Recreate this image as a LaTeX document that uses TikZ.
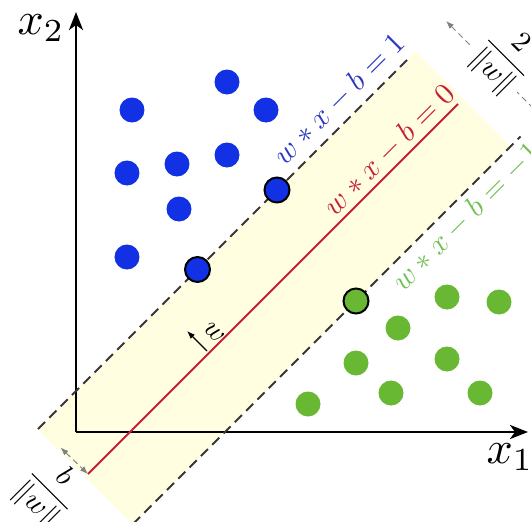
\documentclass[tikz,border=0pt]{standalone}
\usepackage{amsmath}
\usepackage{tikz}
\usetikzlibrary{arrows.meta, positioning, calc}
\definecolor{ptblue}{RGB}{18, 48, 228}
\definecolor{ptgreen}{RGB}{104, 184, 52}
\definecolor{lblblue}{RGB}{45, 55, 195}
\definecolor{lblgreen}{RGB}{115, 192, 85}
\definecolor{hypred}{RGB}{200, 30, 55}
\definecolor{bandyellow}{RGB}{255, 254, 224}
\definecolor{dashgray}{RGB}{55, 55, 55}

\begin{document}
\begin{tikzpicture}[
			x=0.5pt, y=0.5pt,
			dot/.style={circle, inner sep=0pt, minimum size=12.5pt},
			bluedot/.style={dot, fill=ptblue},
			greendot/.style={dot, fill=ptgreen},
			support/.style={draw=black, line width=1pt},
			axis/.style={line width=1.4pt, -{Stealth[length=9pt, width=7pt, inset=2.5pt]}},
			margin/.style={dash pattern=on 5pt off 3pt, line width=0.9pt, draw=dashgray},
			dimline/.style={dash pattern=on 3pt off 2pt, line width=0.5pt, draw=gray, {Latex[length=4pt, width=3pt]}-{Latex[length=4pt, width=3pt]}},
			eqlabel/.style={rotate=45, scale=1.5, inner sep=0pt},
			fraclabel/.style={rotate=-45, scale=1.45, inner sep=1pt, fill=white}
		]
		\useasboundingbox (-76,-89) rectangle (455,432);
		
		% Line ends
		\coordinate (up0) at (-38,3);
		\coordinate (up1) at (334,375);
		\coordinate (hp0) at (12,-42);
		\coordinate (hp1) at (382,328);
		\coordinate (lo0) at (57,-92);
		\coordinate (lo1) at (444.5,295.5);
		
		% Margin band
		\fill[bandyellow] (up0) -- (lo0) -- (434.5,285.5) -- (339.5,380.5) -- cycle;
		
		% Axes
		\coordinate (O) at (0,0);
		\coordinate (xend) at (452,0);
		\coordinate (yend) at (0,420);
		\draw[axis] (O) -- (xend);
		\draw[axis] (O) -- (yend);
		\node[scale=2.3] (xlab) at (434,-25) {$x_1$};
		\node[scale=2.3] (ylab) at (-35,404) {$x_2$};
		
		% Hyperplane and margins
		\draw[margin] (up0) -- (up1);
		\draw[margin] (lo0) -- (lo1);
		\draw[hypred, line width=1pt] (hp0) -- (hp1);
		
		% Normal vector
		\coordinate (wt0) at (131,81);
		\coordinate (wt1) at (111,101);
		\draw[line width=0.6pt, -{Latex[length=4pt, width=3pt]}] (wt0) -- (wt1);
		\node[rotate=-45, scale=1.4, inner sep=0pt] (wlab) at (138,99) {$w$};
		
		% Dimensions
		\coordinate (bd0) at (-15.5,-15.5);
		\draw[dimline] (bd0) -- (hp0);
		\node[fraclabel] (blab) at (-27,-60) {$\dfrac{b}{\|w\|}$};
		\coordinate (md0) at (370,411);
		\coordinate (md1) at (465,316);
		\draw[dimline] (md0) -- (md1);
		\node[fraclabel] (mlab) at (429,373) {$\dfrac{2}{\|w\|}$};
		
		% Class one
		\node[bluedot] (b1) at (151,350) {};
		\node[bluedot] (b2) at (56,322) {};
		\node[bluedot] (b3) at (190,322) {};
		\node[bluedot] (b4) at (51,259) {};
		\node[bluedot] (b5) at (101,268) {};
		\node[bluedot] (b6) at (151,277) {};
		\node[bluedot] (b7) at (103,223) {};
		\node[bluedot] (b8) at (51,175) {};
		\node[bluedot, support] (bs1) at (201,242) {};
		\node[bluedot, support] (bs2) at (121.5,162.5) {};
		
		% Class two
		\node[greendot] (g1) at (371,135) {};
		\node[greendot] (g2) at (423,130) {};
		\node[greendot] (g3) at (322,104) {};
		\node[greendot] (g4) at (280,69) {};
		\node[greendot] (g5) at (371,73) {};
		\node[greendot] (g6) at (232,28) {};
		\node[greendot] (g7) at (315,39) {};
		\node[greendot] (g8) at (404,39) {};
		\node[greendot, support] (gs1) at (280,131) {};
		
		% Equations
		\node[eqlabel, text=lblblue] (eqone) at (263,333) {$w*x-b=1$};
		\node[eqlabel, text=hypred] (eqzero) at (313,282) {$w*x-b=0$};
		\node[eqlabel, text=lblgreen] (eqminus) at (390,215) {$w*x-b=-1$};
		\end{tikzpicture}
\end{document}
